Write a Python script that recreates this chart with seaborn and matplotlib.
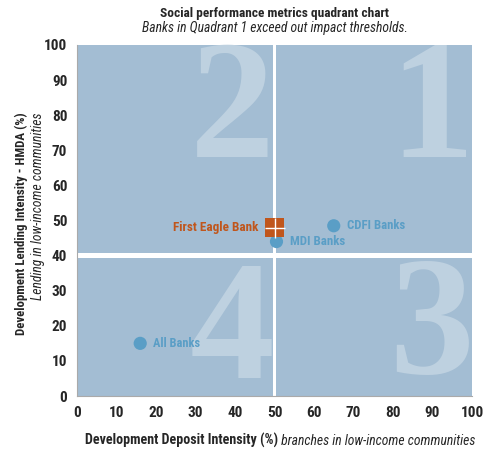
import matplotlib
matplotlib.use("Agg")
import matplotlib.pyplot as plt
from matplotlib.patches import Rectangle
import seaborn as sns
import pandas as pd

# data
banks = ["All Banks", "MDI Banks", "CDFI Banks"]
deposit = [16, 50.5, 65]
lending = [15, 44, 48.5]
focus_bank = "First Eagle Bank"
focus_deposit = 50
focus_lending = 48
x_split = 50
y_split = 40
ticks = list(range(0, 101, 10))

sns.set_style("white")
COND = ["Roboto Condensed", "Sofia Sans Condensed", "DejaVu Sans"]
plt.rcParams["font.family"] = COND

QUAD = "#a3bdd3"
DIGIT = "#bed1e0"
BLUE = "#5a9ec6"
ORANGE = "#c0561c"

df = pd.DataFrame({"bank": banks, "deposit": deposit, "lending": lending})

fig = plt.figure(figsize=(4.84, 4.54), dpi=100)
ax = fig.add_axes([77 / 484, 58 / 454, 395 / 484, 351 / 454])
ax.set_xlim(0, 100)
ax.set_ylim(0, 100)
renderer = fig.canvas.get_renderer()


def fit(t, target, vertical=False):
    """scale a text's font size so that its drawn length is ``target`` pixels"""
    bb = t.get_window_extent(renderer)
    cur = bb.height if vertical else bb.width
    t.set_fontsize(t.get_fontsize() * target / cur)
    return t


# quadrant backgrounds with a white gap, big quadrant numbers
gx, gy = 0.5, 0.6
quads = [
    ("2", (0, y_split + gy, x_split - gx, 100 - y_split - gy), 68),
    ("1", (x_split + gx, y_split + gy, 100 - x_split - gx, 100 - y_split - gy), 68),
    ("4", (0, 0, x_split - gx, y_split - gy), 5),
    ("3", (x_split + gx, 0, 100 - x_split - gx, y_split - gy), 6.5),
]
for num, (x0, y0, w, h), base in quads:
    r = Rectangle((x0, y0), w, h, facecolor=QUAD, edgecolor="none", zorder=0)
    ax.add_patch(r)
    t = ax.text(x0 + w + 0.5, base, num, ha="right", va="baseline",
                fontsize=122, family=["Liberation Serif", "DejaVu Serif"],
                fontweight="bold", color=DIGIT, zorder=1)
    t.set_clip_path(r)

sns.scatterplot(data=df, x="deposit", y="lending", ax=ax, color=BLUE, s=90,
                edgecolor="none", zorder=3, legend=False)
label_w = {"All Banks": 47, "MDI Banks": 55, "CDFI Banks": 58}
for b, xv, yv in zip(banks, deposit, lending):
    t = ax.text(xv + 3.3, yv, b, color=BLUE, fontsize=10, va="center", ha="left",
                fontweight="bold", zorder=4)
    fit(t, label_w[b])

ax.scatter([focus_deposit], [focus_lending], marker="s", s=190, color=ORANGE,
           edgecolor="none", zorder=5)
ax.scatter([focus_deposit], [focus_lending], marker="+", s=190, color="white",
           linewidths=1.0, zorder=6)
t = ax.text(focus_deposit - 4, focus_lending, focus_bank, color=ORANGE, fontsize=10,
            va="center", ha="right", fontweight="bold", zorder=4)
fit(t, 85)

ax.set_xticks(ticks)
ax.set_yticks(ticks)
ax.tick_params(axis="both", length=4, width=0.8, color="#aaaaaa", labelsize=11,
               direction="out", pad=3)
for lab in ax.get_xticklabels() + ax.get_yticklabels():
    lab.set_fontweight("bold")
sns.despine(ax=ax)
for s in ["left", "bottom"]:
    ax.spines[s].set_color("#aaaaaa")
    ax.spines[s].set_linewidth(0.8)
ax.set_xlabel("")
ax.set_ylabel("")

# titles
t = fig.text(274.5 / 484, 1 - 13 / 454, "Social performance metrics quadrant chart",
             ha="center", va="center", fontsize=10, fontweight="bold")
fit(t, 229)
t = fig.text(274.5 / 484, 1 - 28 / 454, "Banks in Quadrant 1 exceed out impact thresholds.",
             ha="center", va="center", fontsize=10, style="italic")
fit(t, 265)

# x label: bold part then italic part
xl = fig.text(85 / 484, 1 - 445 / 454, "Development Deposit Intensity (%)", ha="left",
              va="baseline", fontsize=10, fontweight="bold")
fit(xl, 192)
xi = ax.annotate(" branches in low-income communities", xy=(1, 0), xycoords=xl,
                 va="bottom", ha="left", fontsize=10, style="italic")
fit(xi, 197)

# y label, two lines ending at the same height
t = fig.text(21 / 484, 1 - 112 / 454, "Development Lending Intensity - HMDA (%)",
             rotation=90, ha="center", va="top", fontsize=10, fontweight="bold")
fit(t, 223, vertical=True)
fig.text(38 / 484, 1 - 112 / 454, "Lending in low-income communities",
         rotation=90, ha="center", va="top", fontsize=xi.get_fontsize(), style="italic")

fig.savefig("out.png", dpi=100)
